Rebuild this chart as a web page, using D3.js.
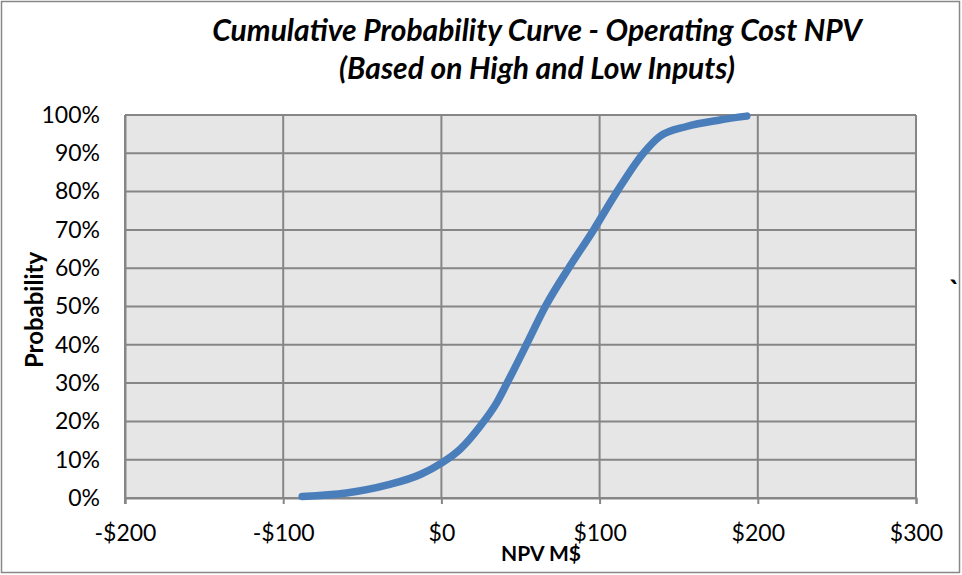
<!DOCTYPE html>
<html>
<head>
<meta charset="utf-8">
<script src="https://cdn.jsdelivr.net/npm/d3@7"></script>
<style>
  html, body { margin: 0; padding: 0; background: #fff; }
  svg { display: block; }
  text { font-family: Lato, "Open Sans", sans-serif; fill: #000; }
</style>
</head>
<body>
<svg id="chart" width="962" height="575"></svg>
<script>
// Data
const npvValues  = [-88, -60, -34, -13, 0, 12, 24.6, 35, 41.5, 53.7, 65.7, 80.4, 96.2, 111, 127.6, 138, 155, 176, 193];
const probValues = [0.4, 1.3, 3.4, 6.2, 9.1, 12.8, 18.8, 24.9, 30, 40, 50, 60, 70, 80, 90, 94.4, 97, 98.7, 99.7];
const xTicks = [-200, -100, 0, 100, 200, 300];
const yTicks = [0, 10, 20, 30, 40, 50, 60, 70, 80, 90, 100];
const titleLines = ["Cumulative Probability Curve - Operating Cost NPV", "(Based on High and Low Inputs)"];
const xTitle = "NPV M$";
const yTitle = "Probability";

const svg = d3.select("#chart");
const W = 962, H = 575;
const plot = { left: 125, right: 916, top: 115, bottom: 498 };

// outer border
svg.append("rect").attr("x", 1.5).attr("y", 1.5).attr("width", W - 4).attr("height", H - 4)
  .attr("fill", "#fff").attr("stroke", "#888").attr("stroke-width", 1.5);

const x = d3.scaleLinear().domain([-200, 300]).range([plot.left, plot.right]);
const y = d3.scaleLinear().domain([0, 100]).range([plot.bottom, plot.top]);

// plot background
svg.append("rect").attr("x", plot.left).attr("y", plot.top)
  .attr("width", plot.right - plot.left).attr("height", plot.bottom - plot.top)
  .attr("fill", "#E6E6E6");

// gridlines
const grid = svg.append("g").attr("stroke", "#868686").attr("stroke-width", 2);
grid.selectAll("line.h").data(yTicks).join("line")
  .attr("x1", plot.left).attr("x2", plot.right)
  .attr("y1", d => y(d)).attr("y2", d => y(d));
grid.selectAll("line.v").data(xTicks).join("line")
  .attr("x1", d => x(d)).attr("x2", d => x(d))
  .attr("y1", plot.top).attr("y2", plot.bottom);

// axes
const xAxis = d3.axisBottom(x).tickValues(xTicks).tickSize(6)
  .tickFormat(d => (d < 0 ? "-$" : "$") + Math.abs(d));
const gx = svg.append("g").attr("transform", `translate(0,${plot.bottom})`).call(xAxis);
gx.select(".domain").attr("stroke", "#868686").attr("stroke-width", 2);
gx.selectAll(".tick line").attr("stroke", "#868686").attr("stroke-width", 2);
gx.selectAll(".tick text").attr("font-size", 23).attr("font-family", "Lato, sans-serif").attr("fill", "#000")
  .attr("dy", null).attr("y", 43);

const yAxis = d3.axisLeft(y).tickValues(yTicks).tickSize(0).tickPadding(25)
  .tickFormat(d => d + "%");
const gy = svg.append("g").attr("transform", `translate(${plot.left},0)`).call(yAxis);
gy.select(".domain").attr("stroke", "#868686").attr("stroke-width", 2);
gy.selectAll(".tick text").attr("font-size", 23).attr("font-family", "Lato, sans-serif").attr("fill", "#000");
svg.append("line").attr("x1", plot.left).attr("x2", plot.left)
  .attr("y1", plot.bottom).attr("y2", plot.bottom + 6).attr("stroke", "#868686").attr("stroke-width", 2);

// curve
const pts = npvValues.map((v, i) => [v, probValues[i]]);
const line = d3.line().x(d => x(d[0])).y(d => y(d[1])).curve(d3.curveMonotoneX);
svg.append("path").datum(pts).attr("d", line)
  .attr("fill", "none").attr("stroke", "#4A7EBB").attr("stroke-width", 7.5)
  .attr("stroke-linecap", "round").attr("stroke-linejoin", "round");

// titles
svg.selectAll("text.title").data(titleLines).join("text")
  .attr("class", "title")
  .attr("x", 537).attr("y", (d, i) => 41 + i * 38)
  .attr("text-anchor", "middle")
  .attr("font-size", 30).attr("font-weight", "bold").attr("font-style", "italic")
  .text(d => d);

svg.append("text").attr("x", 541).attr("y", 561).attr("text-anchor", "middle")
  .attr("font-size", 21).attr("font-weight", "bold").text(xTitle);

svg.append("text").attr("transform", `translate(43,310) rotate(-90)`)
  .attr("text-anchor", "middle").attr("font-size", 24).attr("font-weight", "bold").text(yTitle);

svg.append("text").attr("x", 949).attr("y", 301).attr("font-size", 28).attr("font-weight", "bold").text("`");
</script>
</body>
</html>
